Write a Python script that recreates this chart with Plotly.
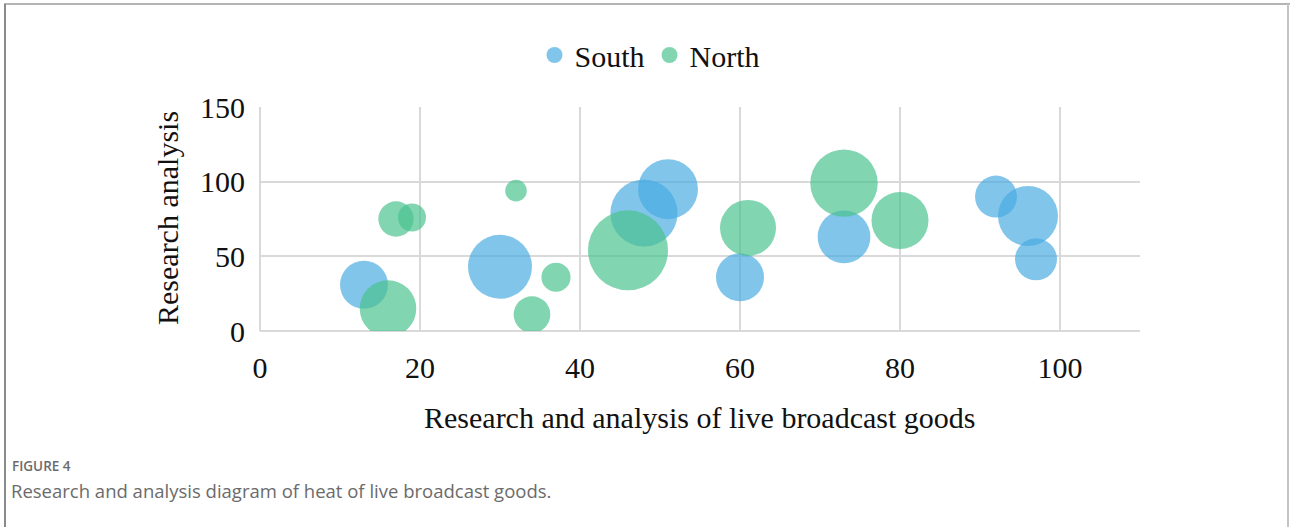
import plotly.graph_objects as go

# Bubble data: x = live broadcast goods score, y = research analysis score, heat = bubble size
south_x = [13, 30, 48, 51, 60, 73, 92, 96, 97]
south_y = [31, 43, 79, 95, 36, 63, 90, 77, 48]
south_heat = [144, 256, 282, 225, 144, 174, 110, 225, 110]

north_x = [16, 17, 19, 32, 34, 37, 46, 61, 73, 80]
north_y = [15, 75, 76, 94, 11, 36, 54, 69, 99, 74]
north_heat = [200, 78, 49, 29, 84, 53, 400, 196, 284, 203]

x_ticks = [0, 20, 40, 60, 80, 100]
y_ticks = [0, 50, 100, 150]

W, H = 1290, 527
M_L, M_R, M_T, M_B = 260, 150, 107, 196
PLOT_W = W - M_L - M_R
PLOT_H = H - M_T - M_B

MAX_DIAMETER = 80
size_ref = 2 * max(south_heat + north_heat) / MAX_DIAMETER ** 2

SERIF = "Liberation Serif, Times New Roman, serif"
SANS = "Open Sans, Noto Sans, sans-serif"


def px_x(p):
    return (p - M_L) / PLOT_W


def px_y(p):
    return (H - M_B - p) / PLOT_H


fig = go.Figure()
fig.add_trace(go.Scatter(
    x=south_x, y=south_y, mode="markers", name="South",
    marker=dict(size=south_heat, sizemode="area", sizeref=size_ref,
                color="rgb(73,171,226)", opacity=0.69, line=dict(width=0)),
))
fig.add_trace(go.Scatter(
    x=north_x, y=north_y, mode="markers", name="North",
    marker=dict(size=north_heat, sizemode="area", sizeref=size_ref,
                color="rgb(73,194,140)", opacity=0.69, line=dict(width=0)),
))

grid = "#d9d9d9"
fig.update_xaxes(
    range=[0, 110], tickvals=x_ticks, showgrid=True, gridcolor=grid, gridwidth=1.5,
    zeroline=True, zerolinecolor=grid, zerolinewidth=1.5,
    showline=False, ticks="", ticklabelstandoff=16,
    tickfont=dict(family=SERIF, size=30, color="#111"), fixedrange=True,
)
fig.update_yaxes(
    range=[0, 150], tickvals=y_ticks, showgrid=True, gridcolor=grid, gridwidth=1.5,
    zeroline=True, zerolinecolor=grid, zerolinewidth=1.5,
    showline=False, ticks="", ticklabelstandoff=14,
    tickfont=dict(family=SERIF, size=30, color="#111"), fixedrange=True,
)

annotations = [
    dict(text="Research and analysis of live broadcast goods", x=0.5, y=px_y(417),
         xref="paper", yref="paper", xanchor="center", yanchor="middle",
         showarrow=False, font=dict(family=SERIF, size=30, color="#111")),
    dict(text="Research analysis", x=px_x(167), y=px_y(218), textangle=-90,
         xref="paper", yref="paper", xanchor="center", yanchor="middle",
         showarrow=False, font=dict(family=SERIF, size=30, color="#111")),
    dict(text="FIGURE 4", x=px_x(10), y=px_y(466),
         xref="paper", yref="paper", xanchor="left", yanchor="middle",
         showarrow=False, font=dict(family=SANS, size=13.5, color="#6b6b6b", weight=600)),
    dict(text="Research and analysis diagram of heat of live broadcast goods.",
         x=px_x(9), y=px_y(490),
         xref="paper", yref="paper", xanchor="left", yanchor="middle",
         showarrow=False, font=dict(family=SANS, size=18.5, color="#6b6b6b")),
]

frame = [
    dict(type="line", xref="paper", yref="paper", x0=px_x(4), x1=px_x(W), y0=px_y(4), y1=px_y(4),
         line=dict(color="#b4b4b4", width=2)),
    dict(type="line", xref="paper", yref="paper", x0=px_x(5), x1=px_x(5), y0=px_y(4), y1=px_y(H),
         line=dict(color="#8a8a8a", width=2)),
    dict(type="line", xref="paper", yref="paper", x0=px_x(1288), x1=px_x(1288), y0=px_y(4), y1=px_y(H),
         line=dict(color="#c4c4c4", width=2)),
]

fig.update_layout(
    width=W, height=H,
    margin=dict(l=M_L, r=M_R, t=M_T, b=M_B),
    paper_bgcolor="white", plot_bgcolor="white",
    showlegend=True,
    legend=dict(orientation="h", x=px_x(650), y=px_y(55), xanchor="center", yanchor="middle",
                font=dict(family=SERIF, size=30, color="#111"), itemsizing="trace",
                bgcolor="rgba(0,0,0,0)"),
    annotations=annotations,
    shapes=frame,
)

fig.write_html("out.html", config={"displayModeBar": False})
